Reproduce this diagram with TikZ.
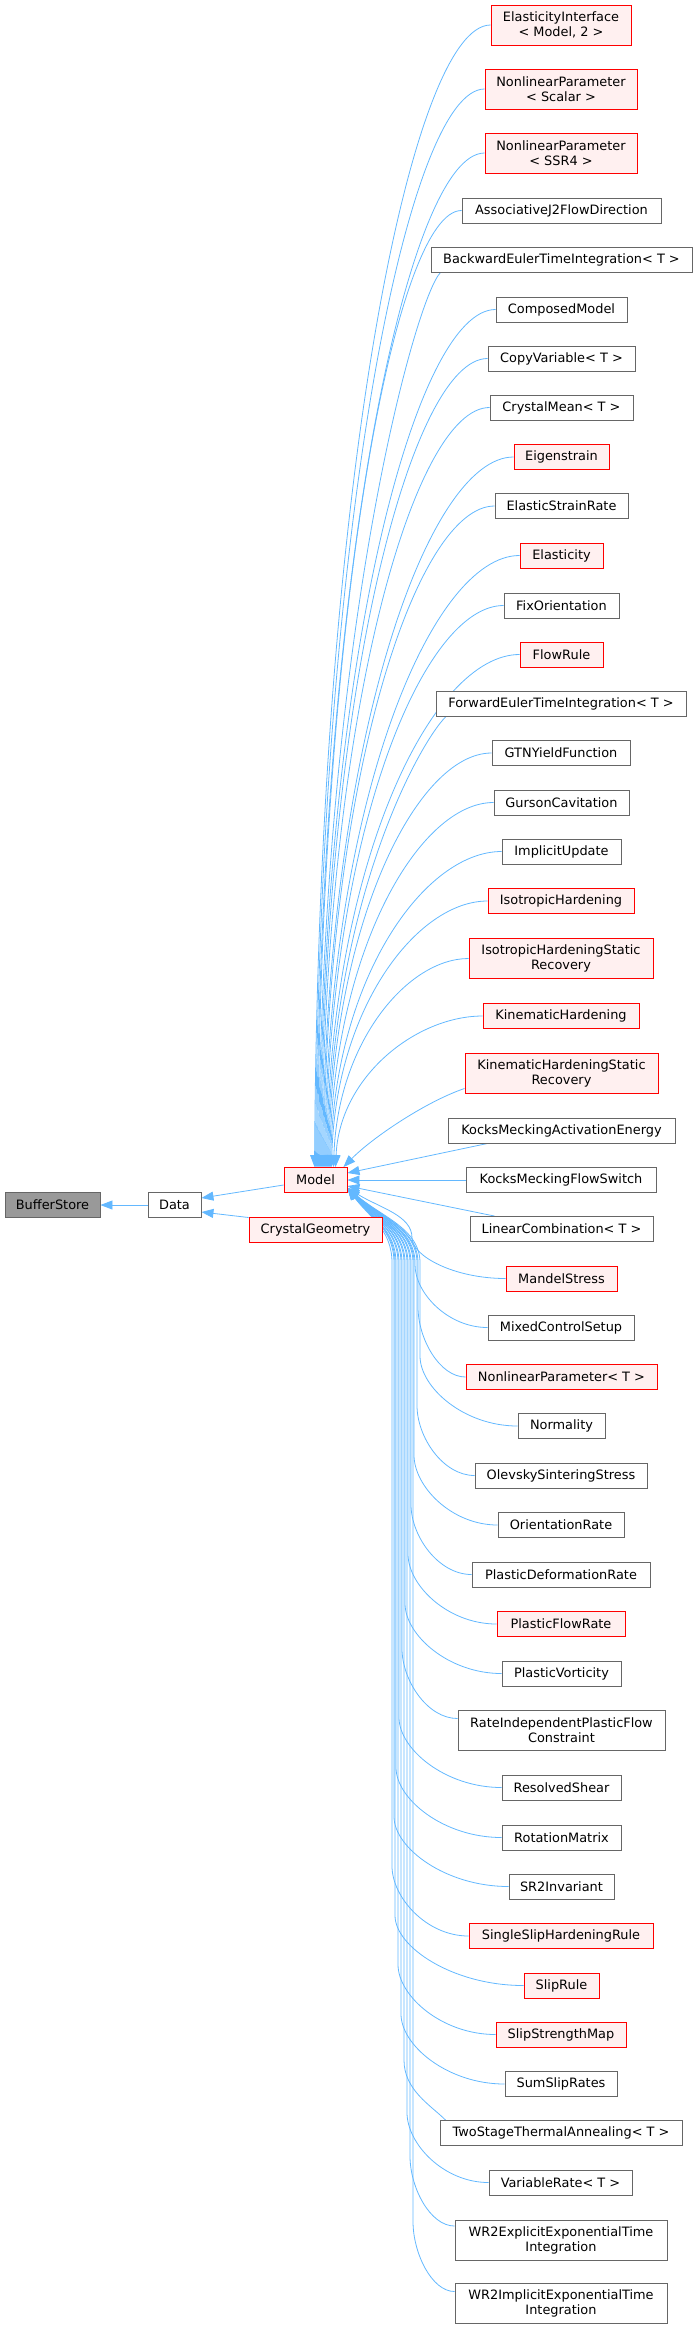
\documentclass[tikz,border=0pt]{standalone}
\usepackage{fontspec}
\setmainfont{DejaVu Sans}
\usetikzlibrary{arrows.meta,calc}
\pgfdeclarelayer{bg}
\pgfsetlayers{bg,main}
\definecolor{edgeblue}{HTML}{63B8FF}
\definecolor{redfill}{HTML}{FFF0F0}
\definecolor{boxgray}{HTML}{666666}
\definecolor{storegray}{HTML}{999999}
\begin{document}
\begin{tikzpicture}[x=1pt,y=-1pt,
  box/.style={draw=boxgray, fill=white, line width=0.9pt, minimum height=25pt, inner sep=1pt,
    font=\fontsize{12.9}{15}\selectfont, align=center},
  redbox/.style={box, draw=red, fill=redfill},
  storebox/.style={box, fill=storegray},
  tall/.style={minimum height=40pt},
  edge/.style={draw=edgeblue, line width=0.8pt, -{Triangle[length=12pt,width=9pt]}},
]
\useasboundingbox (0,0) rectangle (697,2329);

% left part
\node[storebox, minimum width=95pt] (bs) at (52.5,1205) {BufferStore};
\node[box, minimum width=53pt] (data) at (174.5,1205) {Data};
\node[redbox, minimum width=63pt] (model) at (315.5,1180) {Model};
\node[redbox, minimum width=133pt] (cg) at (315.5,1229.5) {CrystalGeometry};

% right column
\node[redbox, tall, minimum width=140pt] (ei) at (561,25) {ElasticityInterface\\< Model, 2 >};
\node[redbox, tall, minimum width=152pt] (nls) at (561,89) {NonlinearParameter\\< Scalar >};
\node[redbox, tall, minimum width=152pt] (nlssr) at (561,153) {NonlinearParameter\\< SSR4 >};
\node[box, minimum width=199pt] (aj2) at (561.5,210.5) {AssociativeJ2FlowDirection};
\node[box, minimum width=261pt] (be) at (561.5,259.5) {BackwardEulerTimeIntegration< T >};
\node[box, minimum width=131pt] (cm) at (561.5,309.5) {ComposedModel};
\node[box, minimum width=147pt] (cv) at (561.5,358.5) {CopyVariable< T >};
\node[box, minimum width=143pt] (crm) at (561.5,407.5) {CrystalMean< T >};
\node[redbox, minimum width=95pt] (eig) at (561.5,457) {Eigenstrain};
\node[box, minimum width=133pt] (esr) at (561.5,506) {ElasticStrainRate};
\node[redbox, minimum width=83pt] (ela) at (561.5,555.5) {Elasticity};
\node[box, minimum width=115pt] (fo) at (561.5,605.5) {FixOrientation};
\node[redbox, minimum width=83pt] (fr) at (561.5,654.5) {FlowRule};
\node[box, minimum width=250pt] (fe) at (561,704) {ForwardEulerTimeIntegration< T >};
\node[box, minimum width=138pt] (gtn) at (561,753) {GTNYieldFunction};
\node[box, minimum width=135pt] (gc) at (561.5,802.5) {GursonCavitation};
\node[box, minimum width=119pt] (iu) at (561.5,851.5) {ImplicitUpdate};
\node[redbox, minimum width=146pt] (ih) at (561,901) {IsotropicHardening};
\node[redbox, tall, minimum width=184pt] (ihsr) at (561,958.5) {IsotropicHardeningStatic\\Recovery};
\node[redbox, minimum width=156pt] (kh) at (561,1016) {KinematicHardening};
\node[redbox, tall, minimum width=193pt] (khsr) at (561.5,1073) {KinematicHardeningStatic\\Recovery};
\node[box, minimum width=227pt] (kmae) at (561.5,1130.5) {KocksMeckingActivationEnergy};
\node[box, minimum width=190pt] (kmfs) at (561,1180) {KocksMeckingFlowSwitch};
\node[box, minimum width=183pt] (lc) at (561.5,1229) {LinearCombination< T >};
\node[redbox, minimum width=111pt] (ms) at (561.5,1278.5) {MandelStress};
\node[box, minimum width=146pt] (mcs) at (561,1327.5) {MixedControlSetup};
\node[redbox, minimum width=191pt] (nlt) at (561.5,1377) {NonlinearParameter< T >};
\node[box, minimum width=87pt] (nor) at (561.5,1426) {Normality};
\node[box, minimum width=172pt] (oss) at (561,1475.5) {OlevskySinteringStress};
\node[box, minimum width=126pt] (orr) at (561,1525) {OrientationRate};
\node[box, minimum width=178pt] (pdr) at (561,1574.5) {PlasticDeformationRate};
\node[redbox, minimum width=128pt] (pfr) at (561,1624) {PlasticFlowRate};
\node[box, minimum width=119pt] (pv) at (561.5,1673.5) {PlasticVorticity};
\node[box, tall, minimum width=207pt] (ripc) at (561.5,1730.5) {RateIndependentPlasticFlow\\Constraint};
\node[box, minimum width=119pt] (rsh) at (561.5,1787.5) {ResolvedShear};
\node[box, minimum width=119pt] (rm) at (561.5,1837.5) {RotationMatrix};
\node[box, minimum width=105pt] (sr2) at (561.5,1886.5) {SR2Invariant};
\node[redbox, minimum width=184pt] (sshr) at (561,1936) {SingleSlipHardeningRule};
\node[redbox, minimum width=75pt] (sr) at (561.5,1985.5) {SlipRule};
\node[redbox, minimum width=130pt] (ssm) at (561,2034.5) {SlipStrengthMap};
\node[box, minimum width=112pt] (ssr) at (561,2084) {SumSlipRates};
\node[box, minimum width=242pt] (tst) at (561,2133) {TwoStageThermalAnnealing< T >};
\node[box, minimum width=143pt] (vr) at (560.5,2182.5) {VariableRate< T >};
\node[box, tall, minimum width=212pt] (wr2e) at (561,2240) {WR2ExplicitExponentialTime\\Integration};
\node[box, tall, minimum width=212pt] (wr2i) at (561,2303.5) {WR2ImplicitExponentialTime\\Integration};

\begin{pgfonlayer}{bg}
% base classes
\draw[edge] (data.west) -- (bs.east);
\draw[edge] ($(model.west)+(0,5)$) -- ($(data.east)+(0,-7)$);
\draw[edge] ($(cg.west)+(0,-12)$) -- ($(data.east)+(0,7)$);

% upper children -> top of Model
\foreach \c/\d in {ei/31, nls/32, nlssr/33, aj2/34, cm/36, cv/37, crm/38, eig/39, esr/40,
                   ela/41, fo/42, fr/43, gtn/45, gc/46, iu/47, ih/48, ihsr/50, kh/52}
  \draw[edge] let \p1=(\c.west), \p2=($(model.north west)+(\d,0)$) in
    (\p1) .. controls ({\x1-0.45*(\x1-\x2)},\y1) and ({\x2+4pt},{\y2+0.6*(\y1-\y2)}) .. (\p2);
\foreach \c/\d in {be/35, fe/44}
  \draw[edge] let \p1=($(\c.south west)+(10,0)$), \p2=($(model.north west)+(\d,0)$) in
    (\p1) .. controls ({\x1-25pt},{\y1-25pt}) and ({\x2+4pt},{\y2+0.6*(\y1-\y2)}) .. (\p2);

% middle children
\draw[edge] ($(khsr.south west)+(0,-5)$) .. controls (425,1102) and (372,1138) .. ($(model.north east)+(-4,0)$);
\draw[edge] ($(kmae.south west)+(40,0)$) -- ($(model.east)+(0,-7)$);
\draw[edge] (kmfs.west) -- (model.east);
\draw[edge] ($(lc.north west)+(25,0)$) -- ($(model.east)+(0,6)$);

% lower children -> bottom right of Model
\foreach \c/\s/\v in {ms/0/412, mcs/0/415, nlt/0/418, nor/0/420, oss/0/417, orr/0/414,
                      pdr/0/411, pfr/0/408, pv/0/405, ripc/-12/402, rsh/0/399, rm/0/396,
                      sr2/0/394, sshr/0/392, sr/0/395, ssm/0/398, ssr/0/401, vr/0/407,
                      wr2e/-14/410, wr2i/-12/413}
  \draw[edge] let \p1=($(\c.west)+(0,\s)$), \p2=($(model.south east)+(0,-5)$),
      \n1={min(0.45*(\y2-\y1),70)}, \n2={max(\y1+\n1,\y2-75)} in
    (\p1) .. controls ({\x1-0.55*(\x1-\v*1pt)},\y1) and ({\v*1pt},{\y1+0.55*\n1*1pt}) .. ({\v*1pt},{\y1+\n1*1pt})
    -- ({\v*1pt},{\n2*1pt})
    .. controls ({\v*1pt},{\n2*1pt+0.45*(\y2-\n2*1pt)}) and ({\x2+0.5*(\v*1pt-\x2)},{\y2-0.4*(\y2-\n2*1pt)}) .. (\p2);
\draw[edge] let \p1=($(tst.north west)+(6,0)$), \p2=($(model.south east)+(0,-5)$),
      \n2={\y2-75} in
    (\p1) .. controls ({\x1-15pt},{\y1+15pt}) and (404pt,{\y1+30pt}) .. (404pt,{\y1+60pt})
    -- (404pt,{\n2*1pt})
    .. controls (404pt,{\n2*1pt+0.45*(\y2-\n2*1pt)}) and ({\x2+0.5*(404pt-\x2)},{\y2-0.4*(\y2-\n2*1pt)}) .. (\p2);
\end{pgfonlayer}
\end{tikzpicture}
\end{document}
